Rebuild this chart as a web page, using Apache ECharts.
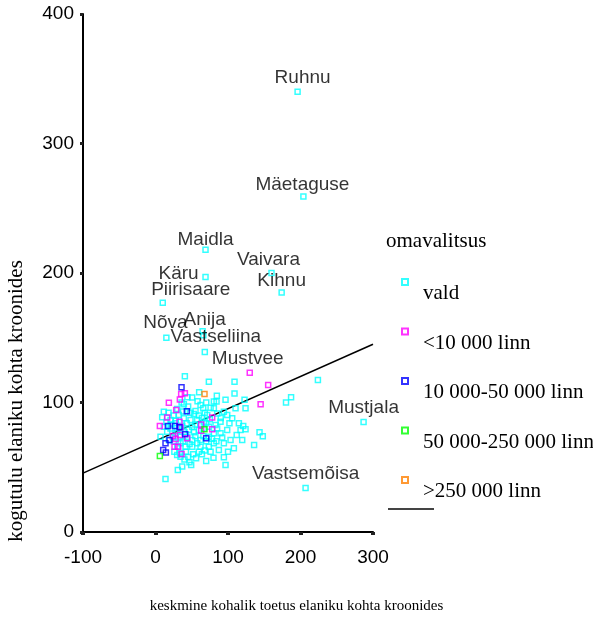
<!DOCTYPE html>
<html>
<head>
<meta charset="utf-8">
<script src="https://cdn.jsdelivr.net/npm/echarts@6/dist/echarts.min.js"></script>
<style>html,body{margin:0;padding:0;background:#fff}#c{width:593px;height:627px}</style>
</head>
<body>
<div id="c"></div>
<script>
// ---- data ----
const seriesNames = ['vald', '<10 000 linn', '10 000-50 000 linn', '50 000-250 000 linn', '>250 000 linn'];
const xTicks = [-100, 0, 100, 200, 300];
const yTicks = [0, 100, 200, 300, 400];

const labeledVald = [
  ['Ruhnu', 196, 340], ['Mäetaguse', 204, 259], ['Maidla', 69, 218], ['Vaivara', 160, 200],
  ['Kihnu', 174, 185], ['Käru', 69, 197], ['Piirisaare', 10, 177], ['Nõva', 15, 150],
  ['Anija', 65, 155], ['Vastseliina', 68, 139], ['Mustjala', 287, 85], ['Vastsemõisa', 207, 34]
];
const labeledSmallTown = [['Mustvee', 130, 123]];

const valdPoints = [
  [66,152],[40.5,120.2],[73.6,116.1],[109,116.1],[60.2,107.9],[109,106.9],[50.6,103.8],[84.6,105.3],[84.2,100.7],[80.5,100.7],
  [96.6,102.2],[122.8,102.2],[39.1,98.6],[62.1,98.1],[65.8,95.5],[55.2,93.4],[52.9,91.1],[11.5,92.9],[9.2,88.6],[20.7,86.5],
  [27.6,83.9],[32.2,90.3],[39.1,87.8],[48.3,86.5],[57.5,86.5],[66.7,85.2],[71.3,90.3],[80.5,95.5],[85.1,91.6],[94.3,92.9],
  [98.9,90.3],[105.8,87.8],[110.4,95.5],[124.2,95.5],[115,83.9],[121,81.9],[117.3,78.8],[124.2,79.3],[98.9,78.8],[89.7,76.2],
  [80.5,76.2],[73.6,73.6],[62.1,71],[57.5,68.5],[50.6,71],[43.7,73.6],[34.5,73.6],[16.1,77.5],[11.5,81.3],[20.7,80],
  [27.6,76.2],[34.5,68.5],[41.4,65.9],[50.6,65.9],[59.8,62],[62.1,65.9],[73.6,65.9],[80.5,68.5],[87.4,63.3],[94.3,68.5],
  [103.5,71],[108.1,64.6],[119.6,71],[136,67.2],[143.5,77],[148,74],[180,100],[187,104],[224,117.4],[33.6,60.8],
  [29.9,59.5],[34.5,58.2],[46.9,53.8],[49.2,51.7],[36.8,50.5],[30.8,47.9],[13.8,40.9],[69.9,54.8],[80,57.4],[94.3,57.7],
  [96.6,51.7],[6.9,73.6],[18.4,71],[25.3,69.8],[50.6,81.3],[59.8,78.8],[66.7,80],[73.6,81.3],[82.8,82.6],[89.7,85.2],
  [62.1,82.6],[34.5,80],[25,90],[30,95],[38,93],[45,97],[48,92],[43,84],[37,82],[30,78],
  [24,73],[40,77],[46,79],[53,77],[55,83],[60,90],[64,88],[68,92],[70,84],[75,87],
  [78,72],[84,70],[70,70],[66,74],[55,74],[47,68],[38,70],[42,62],[52,60],[56,57],
  [64,60],[68,63],[76,62],[45,58],[40,56],[28,86],[22,83],[18,92],[15,85],[36,100],
  [44,104],[58,101],[70,100],[76,96],[90,88],[102,84],[92,73],[85,80],[112,75],[100,62],
  [30,66],[26,62]
];
const smallTownPoints = [
  [155.4,113.5],[145,98.6],[18.4,99.9],[33.6,102.4],[35.4,106.6],[40.5,107.1],[28.5,94.2],[16.1,88.5],[6,81.9],[33.1,85.2],
  [34.5,80.8],[24,74.1],[27.6,71.8],[33.6,74.9],[43.7,72.3],[26.2,65.9],[31.3,65.9],[35.9,60.2],[63,83.1],[63,78.2],
  [78.2,79.3],[78.2,88.5]
];
const midTownPoints = [
  [35.9,111.7],[43.2,93.2],[17,81.9],[26.7,81.9],[33.1,80.8],[41,75.4],[19.3,71],[13.8,68.5],[69.9,72.3],[10.6,63.3],[14.3,61.3]
];
const largeTownPoints = [[6,58.7],[67.6,79.3]];
const capitalPoints = [[67.6,106.6]];
const regressionLine = [[-100, 45.5], [300, 145]];

// ---- styling (positions only) ----
const colors = ['#00FFFF', '#FF00FF', '#0000FF', '#00FF00', '#FF8000'];
const labelOffsets = {
  'Ruhnu': [5, 0], 'Mäetaguse': [-1, 2], 'Maidla': [0, 4], 'Vaivara': [-3, 1], 'Kihnu': [0, 2],
  'Käru': [-27, 11], 'Piirisaare': [28, 1], 'Nõva': [-1, -1], 'Anija': [2, 2], 'Vastseliina': [11, -1],
  'Mustjala': [0, 0], 'Vastsemõisa': [0, 0], 'Mustvee': [-2, 0]
};
const SANS = 'Liberation Sans, Arial, sans-serif';
const SERIF = 'Liberation Serif, Times New Roman, serif';

function withLabels(plain, labeled) {
  const items = plain.map(p => ({ value: p }));
  labeled.forEach(([n, x, y]) => items.push({
    name: n, value: [x, y],
    label: { show: true, formatter: n, position: 'top', distance: 1,
             fontFamily: SANS, fontSize: 19, color: '#000' }
  }));
  return items;
}

const dataSets = [
  withLabels(valdPoints, labeledVald),
  withLabels(smallTownPoints, labeledSmallTown),
  midTownPoints.map(p => ({ value: p })),
  largeTownPoints.map(p => ({ value: p })),
  capitalPoints.map(p => ({ value: p }))
];

const scatterSeries = seriesNames.map((n, i) => ({
  name: n, type: 'scatter', data: dataSets[i], symbol: 'rect', symbolSize: 5,
  itemStyle: { color: 'rgba(255,255,255,0)', borderColor: colors[i], borderWidth: 1.5 },
  emphasis: { disabled: true }, z: 2 + i,
  labelLayout: function (p) {
    const o = labelOffsets[p.text] || [0, 0];
    return { dx: o[0], dy: o[1], hideOverlap: false };
  }
}));

const chart = echarts.init(document.getElementById('c'), null, { renderer: 'canvas' });
chart.setOption({
  animation: false,
  backgroundColor: '#fff',
  title: [
    { text: 'omavalitsus', left: 381, top: 226, textStyle: { fontFamily: SERIF, fontSize: 21, fontWeight: 'normal', color: '#000' } },
    { text: 'keskmine kohalik toetus elaniku kohta kroonides', left: 'center', top: 594,
      textStyle: { fontFamily: SERIF, fontSize: 15, fontWeight: 'normal', color: '#000' } }
  ],
  graphic: [{
    type: 'text', x: 16, y: 401, rotation: Math.PI / 2,
    style: { text: 'kogutulu elaniku kohta kroonides', fontFamily: SERIF, fontSize: 21, fill: '#000',
             textAlign: 'center', textVerticalAlign: 'middle' }
  }],
  legend: [{
    // marker column
    data: seriesNames, orient: 'vertical', left: 401, top: 278, padding: 0,
    itemWidth: 6, itemHeight: 6, itemGap: 41.5, icon: 'rect', selectedMode: false,
    formatter: () => '', textStyle: { fontSize: 6, lineHeight: 6 }
  }, {
    // text column
    data: seriesNames, orient: 'vertical', left: 417, top: 283, padding: 0,
    itemWidth: 0, itemHeight: 0, itemGap: 28.5, icon: 'rect', selectedMode: false,
    itemStyle: { opacity: 0 },
    textStyle: { fontFamily: SERIF, fontSize: 21, lineHeight: 21, color: '#000' }
  }, {
    data: ['regresioon'], left: 388, top: 508, padding: 0, itemWidth: 46, itemHeight: 2, selectedMode: false,
    icon: 'rect', formatter: () => '', itemStyle: { color: '#444' }
  }],
  grid: { left: 83, right: 220, top: 14, bottom: 95 },
  xAxis: {
    type: 'value', min: xTicks[0], max: xTicks[xTicks.length - 1], interval: 100,
    splitLine: { show: false },
    axisLine: { show: true, onZero: false, lineStyle: { color: '#000', width: 2 } },
    axisTick: { show: true, length: 3, lineStyle: { color: '#222', width: 4 } },
    axisLabel: { margin: 16, fontFamily: SANS, fontSize: 19, color: '#000' }
  },
  yAxis: {
    type: 'value', min: yTicks[0], max: yTicks[yTicks.length - 1], interval: 100,
    splitLine: { show: false },
    axisLine: { show: true, onZero: false, lineStyle: { color: '#000', width: 2 } },
    axisTick: { show: true, length: 3, lineStyle: { color: '#222', width: 3 } },
    axisLabel: { margin: 9, fontFamily: SANS, fontSize: 19, color: '#000' }
  },
  series: [
    { name: 'regresioon', type: 'line', data: regressionLine, showSymbol: false, symbol: 'none',
      lineStyle: { color: '#000', width: 1.5 }, itemStyle: { color: '#444' }, z: 1, emphasis: { disabled: true } },
    ...scatterSeries
  ]
});
</script>
</body>
</html>
